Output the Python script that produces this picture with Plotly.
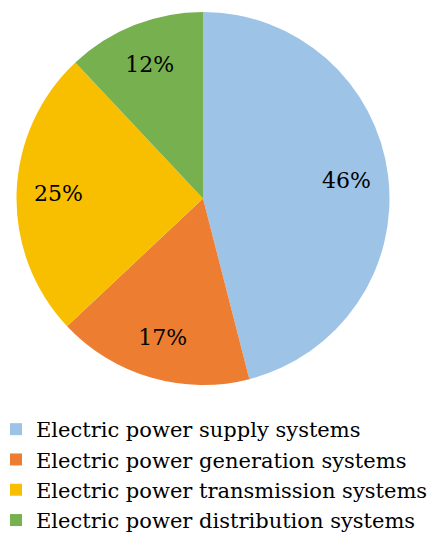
import plotly.graph_objects as go

categories = ["Electric power supply systems", "Electric power generation systems",
              "Electric power transmission systems", "Electric power distribution systems"]
values = [46, 17, 25, 12]
colors = ["#9DC3E6", "#ED7D31", "#F8BF00", "#76B04F"]

OFF = 8  # page body margin
W, H = 444 - OFF, 541 - OFF
FONT = "DejaVu Serif"


def px_x(v):
    return (v - OFF) / W


def px_y(v):
    return 1 - (v - OFF) / H


dom = dict(x=[px_x(16), px_x(390)], y=[px_y(385), px_y(12)])

fig = go.Figure()
fig.add_trace(go.Pie(
    labels=categories, values=values, sort=False, direction="clockwise", rotation=0,
    marker=dict(colors=colors, line=dict(width=0)),
    textinfo="none", domain=dom, hoverinfo="label+percent",
))
# transparent ring used only to place the percentage labels near the rim
fig.add_trace(go.Pie(
    labels=categories, values=values, sort=False, direction="clockwise", rotation=0,
    marker=dict(colors=["rgba(0,0,0,0)"] * 4, line=dict(width=0)),
    hole=0.55, showlegend=False, hoverinfo="skip",
    textinfo="percent", textposition="inside", insidetextorientation="horizontal",
    textfont=dict(family=FONT, size=22, color="black"),
    domain=dom,
))
fig.update_layout(
    width=W, height=H, margin=dict(l=0, r=0, t=0, b=0, autoexpand=False),
    paper_bgcolor="white", plot_bgcolor="white",
    font=dict(family=FONT, size=21, color="black"),
    legend=dict(x=px_x(-4), y=px_y(409), xanchor="left", yanchor="top",
                font=dict(family=FONT, size=21, color="black"),
                itemwidth=30, tracegroupgap=0, bgcolor="rgba(0,0,0,0)"),
    showlegend=True,
)
fig.write_html("out.html")
